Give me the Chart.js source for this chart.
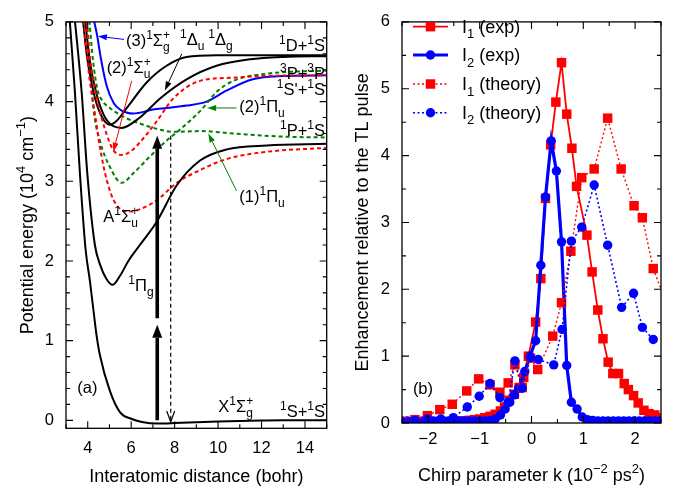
<!DOCTYPE html>
<html><head><meta charset="utf-8">
<script src="https://cdn.jsdelivr.net/npm/chart.js@4"></script>
<style>
html,body{margin:0;padding:0;background:#fff;}
#wrap{position:relative;width:683px;height:491px;overflow:hidden;}
#c1{position:absolute;left:0;top:0;width:340px;height:491px;}
#c2{position:absolute;left:340px;top:0;width:343px;height:491px;}
</style></head><body>
<div id="wrap"><canvas id="c1" width="340" height="491"></canvas><canvas id="c2" width="343" height="491"></canvas></div>
<script>
// ---------- Panel (a): potential energy curves [R (bohr), E (10^4 cm^-1)] ----------
const xTicksA = [4, 6, 8, 10, 12, 14];
const yTicksA = [0, 1, 2, 3, 4, 5];
const curveX1Sg = [[3.15,5.1],[3.41,4.12],[3.64,3.10],[3.9,2.15],[4.1,1.75],[4.26,1.39],[4.41,1.06],[4.56,0.82],[5.02,0.37],[5.49,0.10],[6.0,0.02],[6.5,-0.02],[7.2,-0.04],[8.0,-0.035],[9.0,-0.025],[10,-0.015],[11,-0.008],[12,-0.003],[13,0],[15,0]];
const curvePig = [[3.38,5.1],[3.72,4.12],[3.98,3.10],[4.33,2.2],[4.56,1.96],[4.85,1.78],[5.15,1.70],[5.5,1.82],[5.87,2.0],[6.4,2.2],[7.17,2.49],[8.1,2.95],[9.17,3.26],[10.4,3.40],[12.24,3.45],[15,3.47]];
const curveASu = [[3.78,5.1],[3.92,4.7],[4.1,4.25],[4.33,3.85],[4.56,3.43],[4.87,3.02],[5.26,2.73],[5.95,2.62],[6.5,2.66],[7.17,2.76],[8.1,2.98],[9.17,3.14],[10.4,3.28],[12.24,3.37],[15,3.42]];
const curve2Su = [[3.9,5.1],[4.1,4.55],[4.41,4.05],[4.87,3.59],[5.18,3.39],[5.56,3.33],[6.0,3.38],[6.5,3.52],[7.17,3.75],[7.94,4.04],[9.17,4.26],[10.7,4.30],[12,4.32],[15,4.33]];
const curveDelta1 = [[3.75,5.1],[3.95,4.6],[4.2,4.2],[4.5,3.9],[5.02,3.71],[5.3,3.75],[5.8,3.92],[6.71,4.24],[7.63,4.45],[8.55,4.56],[9.93,4.58],[15,4.58]];
const curveDelta2 = [[3.85,5.1],[4.1,4.5],[4.4,4.1],[4.8,3.8],[5.56,3.67],[6.4,3.80],[7.33,4.04],[8.55,4.28],[9.93,4.45],[11.47,4.53],[13,4.56],[15,4.57]];
const curve3Sg = [[4.22,5.1],[4.44,4.82],[4.6,4.55],[4.87,4.2],[5.2,3.98],[5.49,3.90],[6.1,3.85],[7.0,3.90],[7.63,3.92],[8.55,3.95],[9.47,4.0],[10.4,4.14],[11.6,4.28],[13,4.32],[15,4.33]];
const curve1Pu = [[4.05,5.1],[4.25,4.5],[4.45,4.15],[4.7,4.0],[5.02,3.92],[5.64,3.81],[6.56,3.71],[7.3,3.65],[7.94,3.62],[9.17,3.63],[10.7,3.60],[13,3.56],[15,3.55]];
const curve2Pu = [[3.95,5.1],[4.1,4.5],[4.26,3.92],[4.56,3.51],[5.02,3.18],[5.56,2.98],[6.1,3.10],[6.86,3.31],[7.63,3.51],[8.25,3.65],[9.17,3.88],[9.93,4.12],[10.7,4.26],[12.24,4.35],[15,4.39]];

// ---------- Panel (b): enhancement vs chirp ----------
const xTicksB = [-2, -1, 0, 1, 2];
const yTicksB = [0, 1, 2, 3, 4, 5, 6];
const kI1exp = [-2.5,-2.4,-2.3,-2.2,-2.1,-2.0,-1.9,-1.8,-1.7,-1.6,-1.5,-1.4,-1.3,-1.2,-1.1,-1.0,-0.9,-0.8,-0.7,-0.6,-0.52,-0.43,-0.33,-0.24,-0.15,-0.06,0.08,0.18,0.27,0.37,0.47,0.58,0.68,0.78,0.87,1.07,1.17,1.28,1.38,1.48,1.57,1.68,1.79,1.87,1.97,2.06,2.17,2.27,2.38,2.48];
const I1exp  = [0.02,0.02,0.02,0.02,0.02,0.02,0.02,0.02,0.02,0.02,0.02,0.03,0.03,0.04,0.05,0.06,0.08,0.10,0.13,0.18,0.24,0.34,0.43,0.53,0.68,1.00,1.51,2.16,3.36,4.16,4.80,5.39,4.62,4.11,3.54,2.81,2.26,1.69,1.26,0.91,0.74,0.74,0.59,0.50,0.41,0.30,0.19,0.14,0.12,0.08];
const kI2exp = [-2.5,-2.4,-2.3,-2.2,-2.1,-2.0,-1.9,-1.8,-1.7,-1.6,-1.5,-1.4,-1.3,-1.2,-1.1,-1.0,-0.9,-0.8,-0.7,-0.6,-0.51,-0.42,-0.33,-0.25,-0.13,-0.03,0.08,0.18,0.27,0.38,0.48,0.58,0.68,0.77,0.88,0.98,1.08,1.18,1.28,1.38,1.48,1.58,1.68,1.78,1.88,1.98,2.08,2.18,2.28,2.38,2.48];
const I2exp  = [0.03,0.03,0.03,0.03,0.03,0.03,0.03,0.03,0.03,0.03,0.03,0.03,0.03,0.03,0.03,0.03,0.03,0.04,0.06,0.12,0.21,0.31,0.42,0.52,0.77,1.00,1.23,2.36,3.38,4.22,3.77,2.71,0.86,0.31,0.21,0.09,0.05,0.04,0.03,0.03,0.03,0.03,0.03,0.03,0.03,0.03,0.03,0.03,0.03,0.03,0.03];
const kI1th = [-2.5,-2.25,-2.01,-1.77,-1.53,-1.25,-1.02,-0.80,-0.61,-0.45,-0.32,-0.18,-0.02,0.12,0.41,0.58,0.76,0.97,1.21,1.47,1.73,1.98,2.14,2.35,2.6];
const I1th  = [0.02,0.05,0.11,0.20,0.28,0.48,0.66,0.57,0.46,0.60,0.87,0.53,0.97,0.80,1.30,1.80,2.57,3.67,3.80,4.56,3.80,3.25,3.07,2.31,1.80];
const kI2th = [-2.5,-2.25,-2.01,-1.75,-1.51,-1.24,-1.01,-0.80,-0.61,-0.45,-0.32,-0.18,-0.02,0.13,0.43,0.59,0.77,0.97,1.21,1.47,1.74,1.97,2.14,2.35];
const I2th  = [0.02,0.04,0.06,0.06,0.08,0.24,0.40,0.59,0.38,0.31,0.93,0.52,0.98,0.95,0.87,1.40,2.72,2.93,3.56,2.66,1.73,1.94,1.43,1.25];

const FONT = "'Liberation Sans', Arial, Helvetica, sans-serif";
const RED = '#ff0000', BLUE = '#0000ff', GREEN = '#008000';
const ANN = 16.5, BIG = 18;

function drawRich(ctx, segs, x, y, opt) {
  opt = opt || {};
  const size = opt.size || ANN, small = Math.round(size * 0.72);
  const fN = size + 'px ' + FONT, fS = small + 'px ' + FONT;
  const items = segs.map(s => {
    if (typeof s === 'string') { ctx.font = fN; return {t:'n', s, w:ctx.measureText(s).width}; }
    ctx.font = fS;
    if (s[0] === '^') return {t:'sup', s:s[1], w:ctx.measureText(s[1]).width};
    if (s[0] === '_') return {t:'sub', s:s[1], w:ctx.measureText(s[1]).width};
    return {t:'both', a:s[1], b:s[2], w:Math.max(ctx.measureText(s[1]).width, ctx.measureText(s[2]).width)};
  });
  let w = 0; items.forEach(i => w += i.w);
  let cx = x;
  if (opt.align === 'right') cx -= w; else if (opt.align === 'center') cx -= w / 2;
  ctx.fillStyle = opt.color || '#000';
  ctx.textAlign = 'left'; ctx.textBaseline = 'alphabetic';
  for (const it of items) {
    if (it.t === 'n') { ctx.font = fN; ctx.fillText(it.s, cx, y); }
    else {
      ctx.font = fS;
      if (it.t === 'sup') ctx.fillText(it.s, cx, y - size * 0.42);
      else if (it.t === 'sub') ctx.fillText(it.s, cx, y + size * 0.3);
      else { ctx.fillText(it.a, cx, y - size * 0.42); ctx.fillText(it.b, cx, y + size * 0.3); }
    }
    cx += it.w;
  }
}

function arrow(ctx, x1, y1, x2, y2, o) {
  const ang = Math.atan2(y2 - y1, x2 - x1);
  const hl = o.headLen, hw = o.headW;
  const bx = x2 - hl * Math.cos(ang), by = y2 - hl * Math.sin(ang);
  ctx.save();
  ctx.strokeStyle = o.color; ctx.fillStyle = o.color; ctx.lineWidth = o.width;
  ctx.setLineDash(o.dash || []);
  ctx.beginPath(); ctx.moveTo(x1, y1);
  if (o.open) ctx.lineTo(x2, y2); else ctx.lineTo(bx, by);
  ctx.stroke();
  ctx.setLineDash([]);
  const px = -Math.sin(ang) * hw, py = Math.cos(ang) * hw;
  ctx.beginPath();
  if (o.open) {
    ctx.lineWidth = o.width;
    ctx.moveTo(bx + px, by + py); ctx.lineTo(x2, y2); ctx.lineTo(bx - px, by - py); ctx.stroke();
  } else {
    ctx.moveTo(x2, y2); ctx.lineTo(bx + px, by + py); ctx.lineTo(bx - px, by - py); ctx.closePath(); ctx.fill();
  }
  ctx.restore();
}

function frameTicks(chart, xMajor, xMinStep, yMajor, yMinStep) {
  const {ctx, chartArea:a, scales:{x, y}} = chart;
  ctx.save();
  ctx.strokeStyle = '#000'; ctx.lineWidth = 1.1; ctx.setLineDash([]);
  ctx.beginPath();
  const tx = (v, len) => { const p = x.getPixelForValue(v); ctx.moveTo(p, a.bottom); ctx.lineTo(p, a.bottom - len); ctx.moveTo(p, a.top); ctx.lineTo(p, a.top + len); };
  const ty = (v, len) => { const p = y.getPixelForValue(v); ctx.moveTo(a.left, p); ctx.lineTo(a.left + len, p); ctx.moveTo(a.right, p); ctx.lineTo(a.right - len, p); };
  xMajor.forEach(v => tx(v, 7));
  for (let v = Math.ceil(x.min / xMinStep) * xMinStep; v <= x.max + 1e-9; v += xMinStep) {
    if (!xMajor.some(m => Math.abs(m - v) < 1e-6)) tx(v, 4);
  }
  yMajor.forEach(v => ty(v, 7));
  for (let v = Math.ceil(y.min / yMinStep) * yMinStep; v <= y.max + 1e-9; v += yMinStep) {
    if (!yMajor.some(m => Math.abs(m - v) < 1e-6)) ty(v, 4);
  }
  ctx.stroke();
  ctx.lineWidth = 1.3;
  ctx.strokeRect(a.left, a.top, a.right - a.left, a.bottom - a.top);
  ctx.restore();
}

const labelsA = [
  {x:5.76, y:4.70, segs:['(3)',['^','1'],'Σ',['^_','+','g']]},
  {x:8.25, y:4.71, segs:[['^','1'],'Δ',['_','u']]},
  {x:9.55, y:4.71, segs:[['^','1'],'Δ',['_','g']]},
  {x:14.92, y:4.64, segs:[['^','1'],'D+',['^','1'],'S'], align:'right'},
  {x:4.87, y:4.36, segs:['(2)',['^','1'],'Σ',['^_','+','u']]},
  {x:14.92, y:4.28, segs:[['^','3'],'P+',['^','3'],'P'], align:'right'},
  {x:14.92, y:4.08, segs:[['^','1'],"S'+",['^','1'],'S'], align:'right'},
  {x:10.98, y:3.87, segs:['(2)',['^','1'],'Π',['_','u']]},
  {x:14.92, y:3.57, segs:[['^','1'],'P+',['^','1'],'S'], align:'right'},
  {x:10.98, y:2.74, segs:['(1)',['^','1'],'Π',['_','u']]},
  {x:4.72, y:2.49, segs:['A',['^','1'],'Σ',['^_','+','u']]},
  {x:5.87, y:1.62, segs:[['^','1'],'Π',['_','g']]},
  {x:3.52, y:0.34, segs:['(a)']},
  {x:10.01, y:0.10, segs:['X',['^','1'],'Σ',['^_','+','g']]},
  {x:14.92, y:0.04, segs:[['^','1'],'S+',['^','1'],'S'], align:'right'}
];
const arrowsA = [
  {x1:5.67, y1:4.78, x2:4.47, y2:4.82, color:BLUE},
  {x1:8.33, y1:4.60, x2:7.55, y2:4.14, color:'#000'},
  {x1:6.02, y1:4.26, x2:5.18, y2:3.37, color:RED},
  {x1:10.85, y1:3.92, x2:9.5, y2:3.92, color:GREEN},
  {x1:10.85, y1:2.88, x2:9.55, y2:3.60, color:GREEN}
];

const plugA = {
  id: 'plugA',
  afterDraw(chart) {
    const {ctx, chartArea:a, scales:{x, y}} = chart;
    frameTicks(chart, xTicksA, 1, yTicksA, 0.2);
    ctx.save();
    ctx.beginPath(); ctx.rect(a.left, a.top, a.right - a.left, a.bottom - a.top); ctx.clip();
    const ax = x.getPixelForValue(7.2);
    arrow(ctx, ax, y.getPixelForValue(0), ax, y.getPixelForValue(1.2), {color:'#000', width:3.6, headLen:13, headW:5});
    arrow(ctx, ax, y.getPixelForValue(1.28), ax, y.getPixelForValue(3.57), {color:'#000', width:3.6, headLen:13, headW:5});
    const dx = x.getPixelForValue(7.82);
    arrow(ctx, dx, y.getPixelForValue(3.57), dx, y.getPixelForValue(-0.02), {color:'#000', width:1.2, headLen:11, headW:4, open:true, dash:[4,3]});
    arrowsA.forEach(r => arrow(ctx, x.getPixelForValue(r.x1), y.getPixelForValue(r.y1), x.getPixelForValue(r.x2), y.getPixelForValue(r.y2), {color:r.color, width:1, headLen:9, headW:3}));
    ctx.restore();
    labelsA.forEach(l => drawRich(ctx, l.segs, x.getPixelForValue(l.x), y.getPixelForValue(l.y), {align:l.align}));
    drawRich(ctx, ['Interatomic distance (bohr)'], (a.left + a.right) / 2, 481.5, {align:'center', size:BIG});
    ctx.save();
    ctx.translate(33, (a.top + a.bottom) / 2);
    ctx.rotate(-Math.PI / 2);
    drawRich(ctx, ['Potential energy (10',['^','4'],' cm',['^','\u22121'],')'], 0, 0, {align:'center', size:BIG});
    ctx.restore();
  }
};

function curveDS(arr, color, dash) {
  return {data: arr.map(p => ({x:p[0], y:p[1]})), borderColor:color, borderWidth:2, borderDash:dash || [],
          pointRadius:0, cubicInterpolationMode:'monotone', fill:false};
}

const tickFont = {family:FONT, size:16.5};

new Chart(document.getElementById('c1'), {
  type: 'line',
  data: {datasets: [
    curveDS(curveX1Sg, '#000'),
    curveDS(curvePig, '#000'),
    curveDS(curveASu, RED, [4,3]),
    curveDS(curve2Su, RED, [4,3]),
    curveDS(curveDelta1, '#000'),
    curveDS(curveDelta2, '#000'),
    curveDS(curve1Pu, GREEN, [4,3]),
    curveDS(curve2Pu, GREEN, [4,3]),
    curveDS(curve3Sg, BLUE)
  ]},
  options: {
    responsive:false, animation:false, events:[],
    layout:{padding:{top:11.6, right:13.3, left:0, bottom:0}},
    plugins:{legend:{display:false}, tooltip:{enabled:false}},
    scales: {
      x: {type:'linear', min:3, max:15,
          afterBuildTicks: s => { s.ticks = xTicksA.map(v => ({value:v})); },
          afterFit: s => { s.height = 62.7; },
          ticks:{font:tickFont, color:'#000', padding:10, maxRotation:0, autoSkip:false},
          grid:{display:false, drawTicks:false}, border:{display:false}},
      y: {type:'linear', min:-0.1, max:5,
          afterBuildTicks: s => { s.ticks = yTicksA.map(v => ({value:v})); },
          afterFit: s => { s.width = 66; },
          ticks:{font:tickFont, color:'#000', padding:12, autoSkip:false},
          grid:{display:false, drawTicks:false}, border:{display:false}}
    }
  },
  plugins:[plugA]
});

// ---------- Panel (b) ----------
const seriesB = [
  {label:[ 'I',['_','1'],' (exp)'], k:kI1exp, v:I1exp, color:RED, style:'rect', r:6.7, w:1.8, dash:[]},
  {label:[ 'I',['_','2'],' (exp)'], k:kI2exp, v:I2exp, color:BLUE, style:'circle', r:4.7, w:3.2, dash:[]},
  {label:[ 'I',['_','1'],' (theory)'], k:kI1th, v:I1th, color:RED, style:'rect', r:6.7, w:1.4, dash:[2,2.5]},
  {label:[ 'I',['_','2'],' (theory)'], k:kI2th, v:I2th, color:BLUE, style:'circle', r:4.7, w:1.6, dash:[2,2.5]}
];

const plugB = {
  id: 'plugB',
  afterDraw(chart) {
    const {ctx, chartArea:a, scales:{x, y}} = chart;
    frameTicks(chart, xTicksB, 0.5, yTicksB, 0.5);
    const rows = [26.7, 55, 84, 112.7];
    seriesB.forEach((s, i) => {
      const ry = rows[i];
      ctx.save();
      ctx.strokeStyle = s.color; ctx.lineWidth = s.w; ctx.setLineDash(s.dash);
      ctx.beginPath(); ctx.moveTo(73, ry); ctx.lineTo(108, ry); ctx.stroke();
      ctx.setLineDash([]);
      ctx.fillStyle = s.color;
      ctx.beginPath();
      if (s.style === 'rect') { const h = s.r * Math.SQRT1_2; ctx.rect(90.5 - h, ry - h, 2*h, 2*h); }
      else ctx.arc(90.5, ry, s.r, 0, Math.PI * 2);
      ctx.fill();
      ctx.restore();
      drawRich(ctx, s.label, 122, ry + 6.3, {size:BIG});
    });
    drawRich(ctx, ['(b)'], x.getPixelForValue(-2.29), y.getPixelForValue(0.43));
    drawRich(ctx, ['Chirp parameter k (10',['^','\u22122'],' ps',['^','2'],')'], (a.left + a.right) / 2, 480.5, {align:'center', size:BIG});
    ctx.save();
    ctx.translate(28, (a.top + a.bottom) / 2);
    ctx.rotate(-Math.PI / 2);
    drawRich(ctx, ['Enhancement relative to the TL pulse'], 0, 0, {align:'center', size:BIG});
    ctx.restore();
  }
};

new Chart(document.getElementById('c2'), {
  type: 'line',
  data: {datasets: seriesB.map((s, i) => ({
    data: s.k.map((k, j) => ({x:k, y:s.v[j]})),
    borderColor:s.color, backgroundColor:s.color, borderWidth:s.w, borderDash:s.dash,
    pointStyle:s.style, pointRadius:s.r, pointBackgroundColor:s.color, pointBorderWidth:0,
    tension:0, fill:false, order:4 - i
  }))},
  options: {
    responsive:false, animation:false, events:[],
    layout:{padding:{top:12.5, right:22, left:0, bottom:0}},
    plugins:{legend:{display:false}, tooltip:{enabled:false}},
    scales: {
      x: {type:'linear', min:-2.5, max:2.5,
          afterBuildTicks: s => { s.ticks = xTicksB.map(v => ({value:v})); },
          afterFit: s => { s.height = 68; },
          ticks:{font:tickFont, color:'#000', padding:7, maxRotation:0, autoSkip:false,
                 callback: v => (v < 0 ? '\u2212' + Math.abs(v) : String(v))},
          grid:{display:false, drawTicks:false}, border:{display:false}},
      y: {type:'linear', min:0, max:6,
          afterBuildTicks: s => { s.ticks = yTicksB.map(v => ({value:v})); },
          afterFit: s => { s.width = 62; },
          ticks:{font:tickFont, color:'#000', padding:12, autoSkip:false},
          grid:{display:false, drawTicks:false}, border:{display:false}}
    }
  },
  plugins:[plugB]
});
</script></body></html>
